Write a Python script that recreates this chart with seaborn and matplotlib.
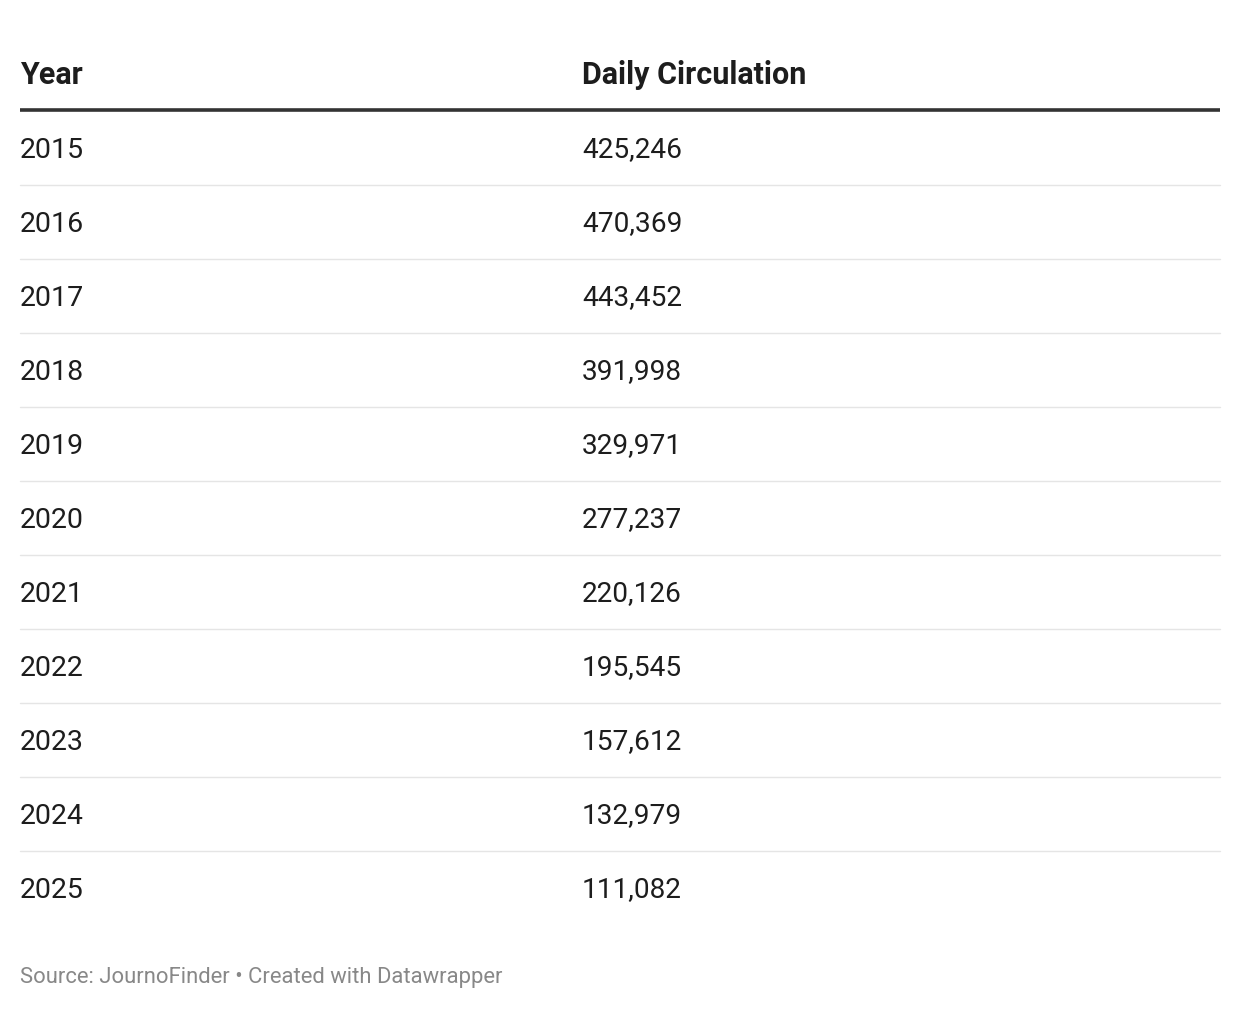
import matplotlib
matplotlib.use("Agg")
import matplotlib.pyplot as plt
import seaborn as sns

years = ["2015", "2016", "2017", "2018", "2019", "2020", "2021", "2022", "2023", "2024", "2025"]
circulation = [425246, 470369, 443452, 391998, 329971, 277237, 220126, 195545, 157612, 132979, 111082]
headers = ["Year", "Daily Circulation"]
footer = "Source: JournoFinder \u2022 Created with Datawrapper"

sns.set_theme(style="white")
plt.rcParams["font.family"] = ["Roboto", "DejaVu Sans"]

W, H = 1240, 1010
fig = plt.figure(figsize=(W / 100, H / 100), dpi=100)
ax = fig.add_axes([0, 0, 1, 1])
ax.set_xlim(0, W)
ax.set_ylim(H, 0)
ax.axis("off")

x_cols = [20, 582]
left, right = 20, 1220
text_color = "#1d1d1d"

# header
for x, h in zip(x_cols, headers):
    ax.text(x, 84, h, fontsize=22, fontweight="bold", color=text_color, va="baseline", ha="left")
ax.plot([left, right], [110, 110], color="#333333", lw=2.6, solid_capstyle="butt")

row_h = 74
for i, (yr, val) in enumerate(zip(years, circulation)):
    base = 157.5 + i * row_h
    ax.text(x_cols[0], base, yr, fontsize=20.5, color=text_color, va="baseline", ha="left")
    ax.text(x_cols[1], base, f"{val:,}", fontsize=20.2, color=text_color, va="baseline", ha="left")
    if i < len(years) - 1:
        sep = 185 + i * row_h
        ax.plot([left, right], [sep, sep], color="#e5e5e5", lw=1.0)

ax.text(20, 983, footer, fontsize=15.8, color="#888888", va="baseline", ha="left")

fig.savefig("out.png", dpi=100, facecolor="white")
